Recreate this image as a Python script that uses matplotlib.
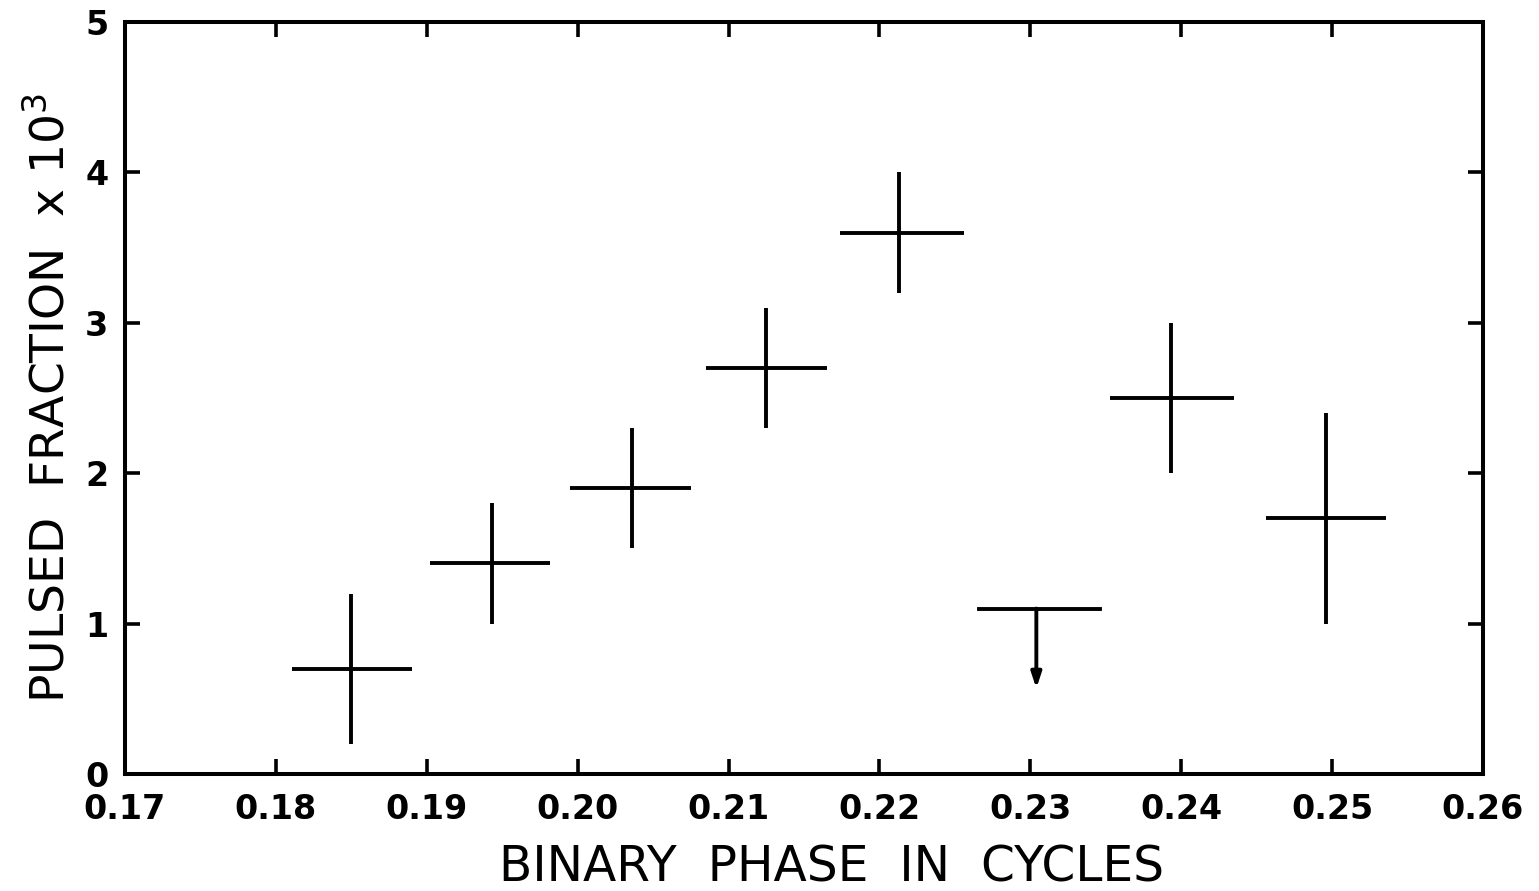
import matplotlib
matplotlib.use('Agg')
import matplotlib.pyplot as plt

# Binary phase bins and pulsed fraction (x 10^3)
phase = [0.1850, 0.1943, 0.2036, 0.2125, 0.2213, 0.2393, 0.2496]
phase_lo = [0.1811, 0.1902, 0.1995, 0.2085, 0.2174, 0.2353, 0.2456]
phase_hi = [0.1890, 0.1982, 0.2075, 0.2165, 0.2256, 0.2435, 0.2536]
frac = [0.7, 1.4, 1.9, 2.7, 3.6, 2.5, 1.7]
frac_lo = [0.2, 1.0, 1.5, 2.3, 3.2, 2.0, 1.0]
frac_hi = [1.2, 1.8, 2.3, 3.1, 4.0, 3.0, 2.4]

# upper limit bin
lim_phase = 0.2304
lim_lo, lim_hi = 0.2266, 0.2346
lim_val = 1.1
lim_arrow_to = 0.57

xticks = [0.17, 0.18, 0.19, 0.20, 0.21, 0.22, 0.23, 0.24, 0.25, 0.26]
xticklabels = ['0.17', '0.18', '0.19', '0.20', '0.21', '0.22', '0.23', '0.24', '0.25', '0.26']
yticks = [0, 1, 2, 3, 4, 5]

fig = plt.figure(figsize=(15.39, 8.91), dpi=100)
ax = fig.add_axes([0.0812, 0.1313, 0.8824, 0.844])

xerr = [[p - l for p, l in zip(phase, phase_lo)], [h - p for p, h in zip(phase, phase_hi)]]
yerr = [[f - l for f, l in zip(frac, frac_lo)], [h - f for f, h in zip(frac, frac_hi)]]
ax.errorbar(phase, frac, xerr=xerr, yerr=yerr, fmt='none', ecolor='black',
            elinewidth=2.8, capsize=0)

ax.plot([lim_lo, lim_hi], [lim_val, lim_val], color='black', lw=2.8)
ax.annotate('', xy=(lim_phase, lim_arrow_to), xytext=(lim_phase, lim_val),
            arrowprops=dict(arrowstyle='-|>,head_length=0.9,head_width=0.3',
                            color='black', lw=2.8, shrinkA=0, shrinkB=0))

ax.set_xlim(0.17, 0.26)
ax.set_ylim(0, 5)
ax.set_xticks(xticks)
ax.set_xticklabels(xticklabels)
ax.set_yticks(yticks)

for s in ax.spines.values():
    s.set_linewidth(2.9)

ax.tick_params(axis='both', direction='in', length=11, width=2.6,
               top=True, right=True, labelsize=24)
ax.tick_params(axis='x', pad=14)
ax.tick_params(axis='y', pad=12)
for lab in ax.get_xticklabels() + ax.get_yticklabels():
    lab.set_fontweight('bold')

ax.set_xlabel('BINARY  PHASE  IN  CYCLES', fontsize=35, labelpad=12)
ax.xaxis.label.set_x(0.52)
ax.set_ylabel(r'PULSED  FRACTION  x 10$^3$', fontsize=34, labelpad=8)

plt.savefig('out.png', dpi=100)
